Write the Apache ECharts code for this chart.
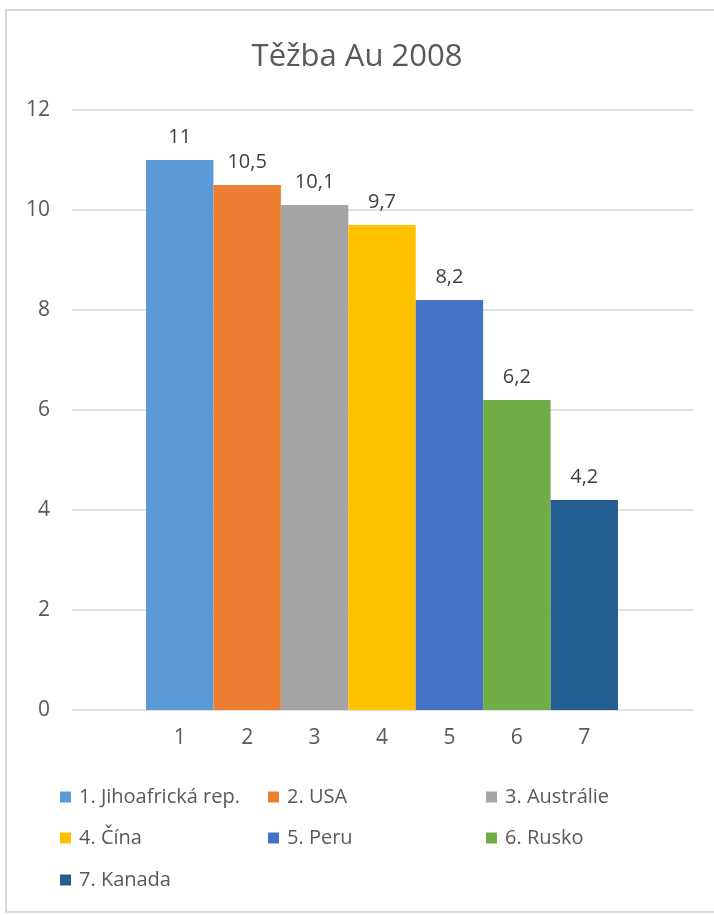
<!DOCTYPE html>
<html>
<head>
<meta charset="utf-8">
<script src="https://cdn.jsdelivr.net/npm/echarts@6/dist/echarts.min.js"></script>
<style>
html,body{margin:0;padding:0;background:#fff;}
#chart{width:714px;height:915px;}
</style>
</head>
<body>
<div id="chart"></div>
<script>
const titleText = 'Těžba Au 2008';
const categories = ['1', '2', '3', '4', '5', '6', '7'];
const seriesNames = ['1. Jihoafrická rep.', '2. USA', '3. Austrálie', '4. Čína', '5. Peru', '6. Rusko', '7. Kanada'];
const values = [11, 10.5, 10.1, 9.7, 8.2, 6.2, 4.2];
const colors = ['#5B9BD5', '#ED7D31', '#A5A5A5', '#FFC000', '#4472C4', '#70AD47', '#255E91'];
const yTicks = { min: 0, max: 12, interval: 2 };

const FONT = '"Open Sans", "DejaVu Sans", sans-serif';
const chart = echarts.init(document.getElementById('chart'), null, { renderer: 'canvas' });

const legendPos = [
  [60, 797], [268, 797], [486, 797],
  [60, 838], [268, 838], [486, 838],
  [60, 880]
];

const legends = seriesNames.map((n, i) => ({
  data: [n],
  left: legendPos[i][0],
  top: legendPos[i][1] - 11,
  padding: 0,
  itemWidth: 11,
  itemHeight: 11,
  icon: 'rect',
  selectedMode: false,
  textStyle: { fontFamily: FONT, fontSize: 20, color: '#595959', lineHeight: 22, padding: [0, 0, 0, 3] }
}));

const series = seriesNames.map((n, i) => ({
  name: n,
  type: 'bar',
  xAxisIndex: 1,
  yAxisIndex: 1,
  stack: 'all',
  barWidth: '100%',
  itemStyle: { color: colors[i] },
  label: {
    show: true,
    position: 'top',
    distance: 13,
    fontFamily: FONT,
    fontSize: 20,
    color: '#404040',
    formatter: p => String(p.value).replace('.', ',')
  },
  data: categories.map((c, j) => (j === i ? values[i] : '-'))
}));

chart.setOption({
  animation: false,
  backgroundColor: '#fff',
  title: {
    text: titleText,
    left: 'center',
    top: 37,
    textStyle: { fontFamily: FONT, fontSize: 31, fontWeight: 'normal', color: '#595959' }
  },
  graphic: [{
    type: 'rect',
    shape: { x: 6, y: 10, width: 730, height: 902 },
    style: { fill: 'none', stroke: '#d9d9d9', lineWidth: 2 },
    silent: true
  }],
  legend: legends,
  grid: [
    { left: 72, right: 21, top: 110, bottom: 205 },
    { left: 146, right: 96, top: 110, bottom: 205 }
  ],
  xAxis: [
    { type: 'category', gridIndex: 0, data: categories, show: false },
    {
      type: 'category', gridIndex: 1, data: categories,
      axisLine: { show: false }, axisTick: { show: false },
      axisLabel: { fontFamily: FONT, fontSize: 21, color: '#595959', margin: 18 }
    }
  ],
  yAxis: [
    {
      type: 'value', gridIndex: 0, min: yTicks.min, max: yTicks.max, interval: yTicks.interval,
      axisLine: { show: false }, axisTick: { show: false },
      splitLine: { lineStyle: { color: '#d9d9d9', width: 1.5 } },
      axisLabel: { fontFamily: FONT, fontSize: 21, color: '#595959', margin: 22 }
    },
    {
      type: 'value', gridIndex: 1, min: yTicks.min, max: yTicks.max, interval: yTicks.interval,
      show: false, splitLine: { show: false }
    }
  ],
  series: series
});
</script>
</body>
</html>
